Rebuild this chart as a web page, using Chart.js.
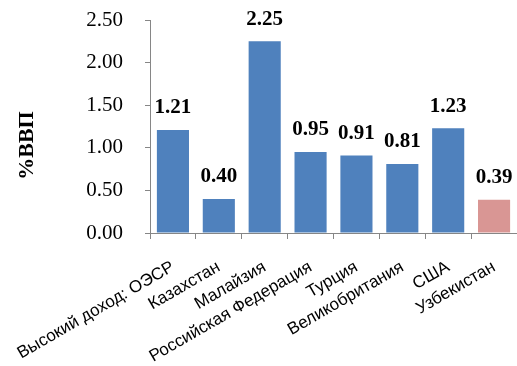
<!DOCTYPE html>
<html>
<head>
<meta charset="utf-8">
<script src="https://cdn.jsdelivr.net/npm/chart.js@4"></script>
<style>
  html, body { margin: 0; padding: 0; background: #fff; }
  #wrap { width: 517px; height: 366px; }
</style>
</head>
<body>
<div id="wrap"><canvas id="c" width="517" height="366"></canvas></div>
<script>
// Расходы в % ВВП по странам
const categories = [
  'Высокий доход: ОЭСР', 'Казахстан', 'Малайзия', 'Российская Федерация',
  'Турция', 'Великобритания', 'США', 'Узбекистан'
];
const values = [1.21, 0.40, 2.25, 0.95, 0.91, 0.81, 1.23, 0.39];
const barColors = ['#4F81BD', '#4F81BD', '#4F81BD', '#4F81BD', '#4F81BD', '#4F81BD', '#4F81BD', '#D99694'];
const yTicks = [0, 0.5, 1.0, 1.5, 2.0, 2.5];
const axisTitle = '%ВВП';

// Value labels above each bar
const valueLabels = {
  id: 'valueLabels',
  afterDatasetsDraw(chart) {
    const ctx = chart.ctx;
    const meta = chart.getDatasetMeta(0);
    ctx.save();
    ctx.font = 'bold 21px "Liberation Serif", "Times New Roman", serif';
    ctx.fillStyle = '#000';
    ctx.textAlign = 'center';
    ctx.textBaseline = 'middle';
    meta.data.forEach((bar, i) => {
      ctx.fillText(values[i].toFixed(2), bar.x, bar.y - 22);
    });
    ctx.restore();
  }
};

// Vertical axis title
const yTitle = {
  id: 'yTitle',
  afterDraw(chart) {
    const { ctx, chartArea } = chart;
    ctx.save();
    ctx.font = 'bold 22px "Liberation Serif", "Times New Roman", serif';
    ctx.fillStyle = '#000';
    ctx.textAlign = 'center';
    ctx.textBaseline = 'middle';
    ctx.translate(chartArea.left - 123, (chartArea.top + chartArea.bottom) / 2 + 19);
    ctx.rotate(-Math.PI / 2);
    ctx.fillText(axisTitle, 0, 0);
    ctx.restore();
  }
};

new Chart(document.getElementById('c'), {
  type: 'bar',
  data: {
    labels: categories,
    datasets: [{
      data: values,
      backgroundColor: barColors,
      borderWidth: 0,
      barPercentage: 0.7,
      categoryPercentage: 1.0
    }]
  },
  options: {
    responsive: false,
    animation: false,
    devicePixelRatio: 1,
    layout: { padding: { left: 86, top: 20, right: 0, bottom: 0 } },
    plugins: { legend: { display: false }, tooltip: { enabled: false } },
    scales: {
      y: {
        min: 0,
        max: 2.5,
        afterBuildTicks(scale) { scale.ticks = yTicks.map(v => ({ value: v })); },
        afterFit(scale) { scale.width = 64; scale.paddingTop = 0; scale.paddingBottom = 0; },
        ticks: {
          callback: v => Number(v).toFixed(2),
          color: '#000',
          padding: 22,
          font: { family: '"Liberation Serif", "Times New Roman", serif', size: 21 }
        },
        grid: { drawOnChartArea: false, tickLength: 5, color: '#868686' },
        border: { color: '#868686' }
      },
      x: {
        afterFit(scale) { scale.height = 133; scale.paddingLeft = 0; scale.paddingRight = 0; },
        ticks: {
          color: '#000',
          minRotation: 30,
          maxRotation: 30,
          autoSkip: false,
          padding: 18,
          font: { family: '"Liberation Sans", Arial, sans-serif', size: 17 }
        },
        grid: { drawOnChartArea: false, offset: true, tickLength: 6, color: '#868686' },
        border: { color: '#868686' }
      }
    }
  },
  plugins: [valueLabels, yTitle]
});
</script>
</body>
</html>
